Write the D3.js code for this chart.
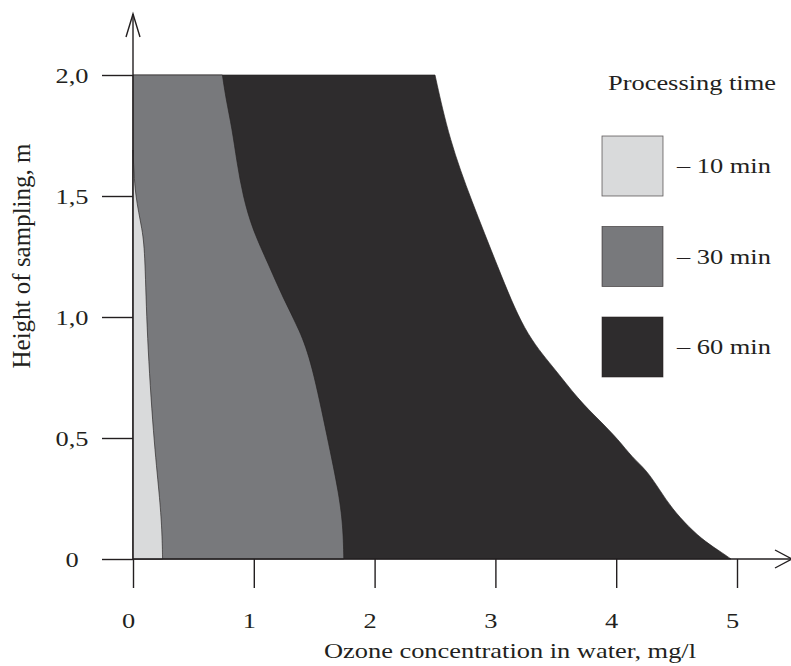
<!DOCTYPE html>
<html>
<head>
<meta charset="utf-8">
<script src="https://cdn.jsdelivr.net/npm/d3@7"></script>
<style>
  body { margin: 0; background: #fff; }
  text { font-family: "Liberation Serif", "Times New Roman", serif; fill: #231f20; }
</style>
</head>
<body>
<div id="chart"></div>
<script>
// Ozone concentration profiles (height in m, concentration in mg/l)
const heights10 = [1.69, 1.5, 1.36, 1.25, 0.93, 0.5, 0.26, 0.12, 0];
const conc10 = [0, 0.015, 0.08, 0.10, 0.115, 0.17, 0.22, 0.24, 0.245];

const heights30 = [2.0, 1.9, 1.78, 1.64, 1.5, 1.36, 1.22, 1.08, 0.946, 0.81, 0.5, 0.26, 0.12, 0];
const conc30 = [0.74, 0.77, 0.82, 0.86, 0.91, 0.99, 1.12, 1.24, 1.38, 1.48, 1.61, 1.71, 1.74, 1.745];

const heights60 = [2.0, 1.73, 1.483, 1.207, 0.934, 0.793, 0.657, 0.574, 0.492, 0.421, 0.368, 0.285, 0.21, 0.132, 0.07, 0.025, 0];
const conc60 = [2.50, 2.62, 2.80, 3.02, 3.24, 3.48, 3.69, 3.86, 4.02, 4.13, 4.25, 4.36, 4.46, 4.60, 4.74, 4.88, 4.95];

const xTicks = [0, 1, 2, 3, 4, 5];
const yTicks = [0, 0.5, 1.0, 1.5, 2.0];
const legendLabels = ["– 10 min", "– 30 min", "– 60 min"];
const colors = ["#d9dadb", "#78797c", "#2e2c2d"];

const width = 791, height = 666;
const ink = "#231f20";

const x = d3.scaleLinear().domain([0, 5]).range([133, 737]);
const y = d3.scaleLinear().domain([0, 2]).range([559, 75]);

const svg = d3.select("#chart")
  .append("svg")
  .attr("width", width)
  .attr("height", height);

// stretch serif text a bit wider, like the original typesetting
function widen(sel, k = 1.2) {
  sel.each(function() {
    const len = this.getComputedTextLength();
    d3.select(this).attr("textLength", len * k).attr("lengthAdjust", "spacingAndGlyphs");
  });
}

// areas, drawn back to front
const series = [
  { h: heights60, c: conc60, color: colors[2] },
  { h: heights30, c: conc30, color: colors[1] },
  { h: heights10, c: conc10, color: colors[0] }
];

const area = d3.area()
  .curve(d3.curveBasis)
  .y(d => y(d[0]))
  .x0(x(0))
  .x1(d => x(d[1]));

svg.append("g")
  .selectAll("path")
  .data(series)
  .join("path")
  .attr("d", s => area(s.h.map((h, i) => [h, s.c[i]])))
  .attr("fill", s => s.color)
  .attr("stroke", ink)
  .attr("stroke-width", 0.8)
  .attr("stroke-opacity", 0.8);

// y axis
const yAxis = svg.append("g")
  .attr("transform", `translate(${x(0)},0)`)
  .call(d3.axisLeft(y)
    .tickValues(yTicks)
    .tickSize(31)
    .tickFormat(d => d === 0 ? "0" : d.toFixed(1).replace(".", ",")));
yAxis.select(".domain").remove();
yAxis.selectAll(".tick line").attr("stroke", ink).attr("stroke-width", 1.4);
yAxis.selectAll(".tick text")
  .attr("x", 72 - x(0))
  .attr("dy", "0.34em")
  .attr("text-anchor", "middle")
  .style("font-size", "22px")
  .call(widen);

// x axis
const xAxis = svg.append("g")
  .attr("transform", `translate(0,${y(0)})`)
  .call(d3.axisBottom(x)
    .tickValues(xTicks)
    .tickSize(29)
    .tickFormat(d3.format("d")));
xAxis.select(".domain").remove();
xAxis.selectAll(".tick line").attr("stroke", ink).attr("stroke-width", 1.4);
xAxis.selectAll(".tick text")
  .attr("x", -5)
  .attr("y", 69)
  .attr("dy", 0)
  .attr("text-anchor", "middle")
  .style("font-size", "22px")
  .call(widen);

// axis lines with open arrowheads
const axes = svg.append("g")
  .attr("fill", "none")
  .attr("stroke", ink)
  .attr("stroke-width", 1.4);
axes.append("path").attr("d", `M${x(0)},${y(0)}V14`);
axes.append("path").attr("d", `M${x(0) - 7},37L${x(0)},14L${x(0) + 7},37`);
axes.append("path").attr("d", `M${x(0)},${y(0)}H792`);
axes.append("path").attr("d", `M775,${y(0) - 9}L792,${y(0)}L775,${y(0) + 9}`);

// axis titles
svg.append("text")
  .attr("x", 510)
  .attr("y", 658)
  .attr("text-anchor", "middle")
  .style("font-size", "22px")
  .text("Ozone concentration in water, mg/l")
  .call(widen);

svg.append("text")
  .attr("transform", "translate(30,256) rotate(-90)")
  .attr("text-anchor", "middle")
  .style("font-size", "25px")
  .text("Height of sampling, m");

// legend
svg.append("text")
  .attr("x", 608)
  .attr("y", 90)
  .style("font-size", "22px")
  .text("Processing time")
  .call(widen);

const legend = svg.append("g")
  .selectAll("g")
  .data(legendLabels)
  .join("g")
  .attr("transform", (d, i) => `translate(602,${136 + i * 90.5})`);

legend.append("rect")
  .attr("width", 61)
  .attr("height", 60)
  .attr("fill", (d, i) => colors[i])
  .attr("stroke", ink)
  .attr("stroke-width", 0.8)
  .attr("stroke-opacity", 0.7);

legend.append("text")
  .attr("x", 75)
  .attr("y", 30)
  .attr("dy", "0.34em")
  .style("font-size", "22px")
  .text(d => d)
  .call(widen);
</script>
</body>
</html>
